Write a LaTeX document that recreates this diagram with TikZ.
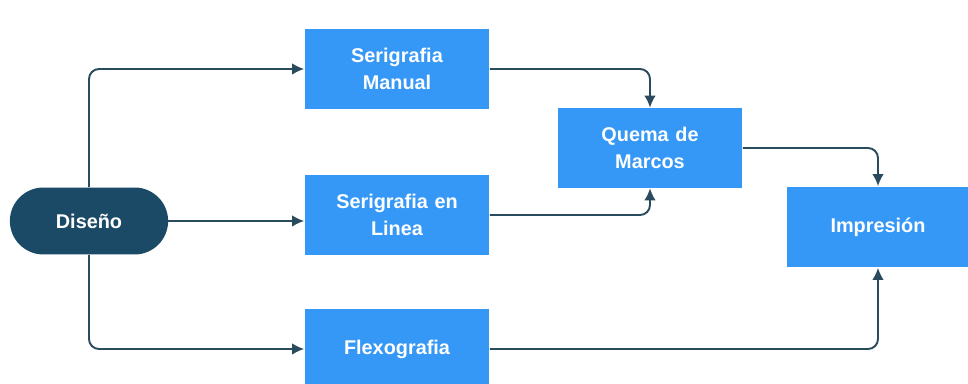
\documentclass[tikz,border=0pt]{standalone}
\usepackage{fontspec}
\setmainfont{Liberation Sans}
\usepackage{tikz}
\usetikzlibrary{shapes.misc,arrows.meta,positioning,calc}

\definecolor{boxblue}{HTML}{3598F6}
\definecolor{darkblue}{HTML}{1B4A66}
\definecolor{linecol}{HTML}{2A4A5E}

\begin{document}
\begin{tikzpicture}[
    x=0.02cm, y=-0.02cm,
    proc/.style = {rectangle, fill=boxblue, minimum width=3.7cm, minimum height=1.6cm, text width=3.4cm, align=center, text=white, font=\fontsize{11.3}{15}\selectfont\bfseries},
    start/.style = {rounded rectangle, fill=darkblue, minimum width=3.4cm, minimum height=1.34cm, align=center, text=white, font=\fontsize{11.3}{15}\selectfont\bfseries},
    conn/.style = {-{Latex[length=2.4mm,width=2.3mm]}, line width=1.1pt, draw=linecol, rounded corners=0.2cm}
]
    \useasboundingbox (0,0) rectangle (968,384);

    % Start node
    \node[start] (diseno) at (89,221) {Dise\~no};

    % Printing methods
    \node[proc] (serman) at (397,69) {Serigrafia\\Manual};
    \node[proc] (serlin) at (397,215) {Serigrafia en\\Linea};
    \node[proc] (flexo) at (397,349) {Flexografia};

    % Screens and final step
    \node[proc] (quema) at (650,148) {Quema de\\Marcos};
    \node[proc, minimum width=3.52cm, minimum height=1.62cm] (impr) at (878,227) {Impresi\'on};

    % Arrows from Diseño
    \draw[conn] (diseno.north) |- (serman.west);
    \draw[conn] (diseno.east) -- (serlin.west |- diseno.east);
    \draw[conn] (diseno.south) |- (flexo.west);

    % Arrows to Quema de Marcos
    \draw[conn] (serman.east) -| (quema.north);
    \draw[conn] (serlin.east) -| (quema.south);

    % Arrows to Impresión
    \draw[conn] (quema.east) -| (impr.north);
    \draw[conn] (flexo.east) -| (impr.south);

\end{tikzpicture}
\end{document}
